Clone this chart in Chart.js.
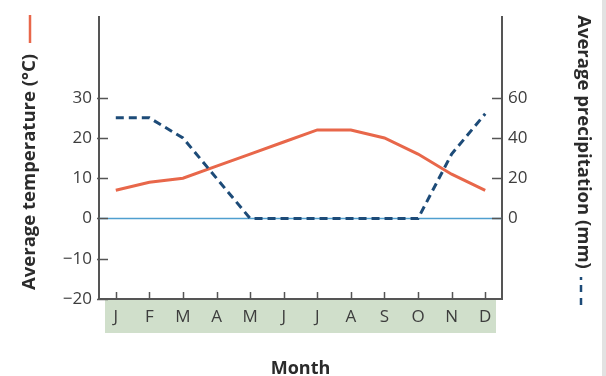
<!DOCTYPE html>
<html>
<head>
<meta charset="utf-8">
<script src="https://cdn.jsdelivr.net/npm/chart.js@4/dist/chart.umd.min.js"></script>
<style>
  html, body { margin: 0; padding: 0; background: #fff; }
  #wrap { width: 606px; height: 376px; position: relative; }
</style>
</head>
<body>
<div id="wrap"><canvas id="c" width="606" height="376"></canvas></div>
<script>
const months = ['J', 'F', 'M', 'A', 'M', 'J', 'J', 'A', 'S', 'O', 'N', 'D'];
const temperature = [7, 9, 10, 13, 16, 19, 22, 22, 20, 16, 11, 7];
const precipitation = [50, 50, 40, 20, 0, 0, 0, 0, 0, 0, 32, 52];
const tempTicks = [-20, -10, 0, 10, 20, 30];
const precipTicks = [0, 20, 40, 60];
const leftTitle = 'Average temperature (°C)';
const rightTitle = 'Average precipitation (mm)';
const xTitle = 'Month';

const FONT = "'Open Sans', 'Noto Sans', sans-serif";
const RED = '#e8674a';
const NAVY = '#1d4b78';
const AXIS = '#555555';

const decor = {
  id: 'decor',
  beforeDraw(chart) {
    const ctx = chart.ctx;
    const a = chart.chartArea;
    ctx.save();
    ctx.fillStyle = '#e2e2e2';
    ctx.fillRect(602, 0, 4, 376);
    ctx.fillStyle = '#d0dfcb';
    ctx.fillRect(a.left + 6, a.bottom + 1, (a.right - 6) - (a.left + 6), 33);
    ctx.restore();
  },
  beforeDatasetsDraw(chart) {
    const ctx = chart.ctx;
    const a = chart.chartArea;
    const yL = chart.scales.y;
    const yR = chart.scales.y1;
    const x = chart.scales.x;
    ctx.save();
    const y0 = yL.getPixelForValue(0);
    ctx.strokeStyle = '#4f9fcf';
    ctx.lineWidth = 1.5;
    ctx.beginPath();
    ctx.moveTo(a.left, y0);
    ctx.lineTo(a.right, y0);
    ctx.stroke();
    ctx.strokeStyle = AXIS;
    ctx.lineWidth = 1.5;
    ctx.beginPath();
    tempTicks.forEach(v => {
      const py = Math.round(yL.getPixelForValue(v)) + 0.5;
      ctx.moveTo(a.left - 2, py);
      ctx.lineTo(a.left + 9, py);
    });
    precipTicks.forEach(v => {
      const py = Math.round(yR.getPixelForValue(v)) + 0.5;
      ctx.moveTo(a.right - 10, py);
      ctx.lineTo(a.right + 1, py);
    });
    months.forEach((m, i) => {
      const px = Math.round(x.getPixelForValue(i)) + 0.5;
      ctx.moveTo(px, a.bottom - 7);
      ctx.lineTo(px, a.bottom);
    });
    ctx.stroke();
    ctx.restore();
  },
  afterDraw(chart) {
    const ctx = chart.ctx;
    ctx.save();
    ctx.fillStyle = '#2b2b2b';
    ctx.font = "bold 18.5px " + FONT;
    ctx.textAlign = 'center';
    ctx.textBaseline = 'middle';
    ctx.save();
    ctx.translate(30, 172);
    ctx.rotate(-Math.PI / 2);
    ctx.fillText(leftTitle, 0, 0);
    ctx.restore();
    ctx.save();
    ctx.translate(583, 142);
    ctx.rotate(Math.PI / 2);
    ctx.fillText(rightTitle, 0, 0);
    ctx.restore();
    ctx.strokeStyle = RED;
    ctx.lineWidth = 2.5;
    ctx.beginPath();
    ctx.moveTo(30, 15);
    ctx.lineTo(30, 43);
    ctx.stroke();
    ctx.strokeStyle = NAVY;
    ctx.lineWidth = 2.5;
    ctx.beginPath();
    ctx.moveTo(581, 277); ctx.lineTo(581, 280);
    ctx.moveTo(581, 285); ctx.lineTo(581, 292);
    ctx.moveTo(581, 298); ctx.lineTo(581, 305);
    ctx.stroke();
    ctx.restore();
  }
};

new Chart(document.getElementById('c'), {
  type: 'line',
  data: {
    labels: months,
    datasets: [
      {
        label: leftTitle,
        data: temperature,
        yAxisID: 'y',
        borderColor: RED,
        borderWidth: 3,
        pointRadius: 0,
        tension: 0,
        fill: false,
        order: 2
      },
      {
        label: rightTitle,
        data: precipitation,
        yAxisID: 'y1',
        borderColor: NAVY,
        borderWidth: 3,
        borderDash: [8, 5],
        pointRadius: 0,
        tension: 0,
        fill: false,
        order: 1
      }
    ]
  },
  options: {
    responsive: false,
    animation: false,
    layout: { padding: { top: 12, left: 0, right: 0, bottom: 0 } },
    plugins: { legend: { display: false }, tooltip: { enabled: false } },
    scales: {
      x: {
        type: 'category',
        offset: true,
        grid: { display: false, drawTicks: false, tickLength: 0 },
        border: { display: true, color: AXIS, width: 2 },
        ticks: { color: '#3d3d3d', font: { family: FONT, size: 17 }, padding: 8, maxRotation: 0, autoSkip: false },
        title: { display: true, text: xTitle, color: '#2b2b2b', font: { family: FONT, size: 18, weight: 'bold' }, padding: { top: 0, bottom: -4 } },
        afterFit(s) { s.height = 77; }
      },
      y: {
        position: 'left',
        min: -20,
        max: 50,
        afterBuildTicks(s) { s.ticks = tempTicks.map(v => ({ value: v })); },
        grid: { display: false, drawTicks: false, tickLength: 0 },
        border: { display: true, color: AXIS, width: 2 },
        ticks: {
          color: '#3d3d3d',
          font: { family: FONT, size: 17 },
          padding: 7,
          callback: v => (v < 0 ? '\u2212' + Math.abs(v) : String(v))
        },
        afterFit(s) { s.width = 99; }
      },
      y1: {
        position: 'right',
        min: -40,
        max: 100,
        afterBuildTicks(s) { s.ticks = precipTicks.map(v => ({ value: v })); },
        grid: { display: false, drawTicks: false, tickLength: 0 },
        border: { display: true, color: AXIS, width: 2 },
        ticks: { color: '#3d3d3d', font: { family: FONT, size: 17 }, padding: 6 },
        afterFit(s) { s.width = 104; }
      }
    }
  },
  plugins: [decor]
});
</script>
</body>
</html>
